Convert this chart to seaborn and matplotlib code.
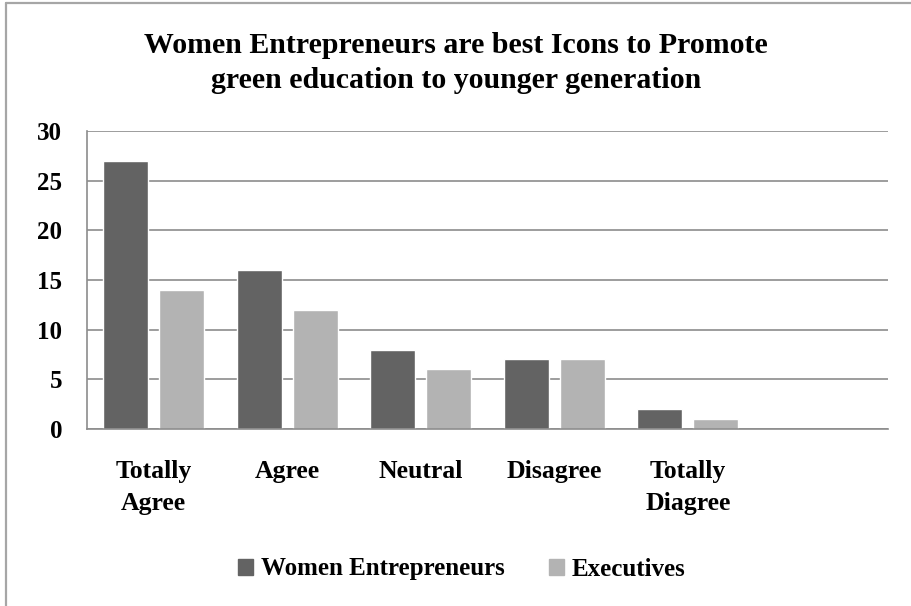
import pandas as pd
import seaborn as sns
import matplotlib.pyplot as plt
from matplotlib.lines import Line2D

# values
categories = ["Totally\nAgree", "Agree", "Neutral", "Disagree", "Totally\nDiagree"]
women_entrepreneurs = [27, 16, 8, 7, 2]
executives = [14, 12, 6, 7, 1]
series_names = ["Women Entrepreneurs", "Executives"]
series_colors = ["#636363", "#b3b3b3"]
title = "Women Entrepreneurs are best Icons to Promote\ngreen education to younger generation"

df = pd.DataFrame({
    "category": categories * 2,
    "group": [series_names[0]] * len(categories) + [series_names[1]] * len(categories),
    "value": women_entrepreneurs + executives,
})

sns.set_style("white")
plt.rcParams['font.family'] = ['Liberation Serif', 'DejaVu Serif']
plt.rcParams['font.weight'] = 'bold'
plt.rcParams['text.color'] = 'black'
plt.rcParams['xtick.color'] = 'black'
plt.rcParams['ytick.color'] = 'black'

fig = plt.figure(figsize=(9.12, 6.06), dpi=100)
ax = fig.add_axes([0.0954, 0.2921, 0.8783, 0.4917])

# extra empty slot at the right, like the original
order = categories + [" "]
sns.barplot(data=df, x="category", y="value", hue="group", order=order,
            hue_order=series_names, palette=series_colors, width=0.84, gap=0.2,
            saturation=1, legend=False, ax=ax)

ax.set_ylim(0, 30)
ax.set_yticks(range(0, 31, 5))
ax.set_xlim(-0.5, len(order) - 0.5)
ax.yaxis.grid(True, color="#8c8c8c", linewidth=1.2)
ax.set_axisbelow(True)
ax.set_xlabel("")
ax.set_ylabel("")
for s in ["top", "right"]:
    ax.spines[s].set_visible(False)
for s in ["left", "bottom"]:
    ax.spines[s].set_color("#8c8c8c")
    ax.spines[s].set_linewidth(1.2)
ax.tick_params(axis="both", length=0, labelcolor="black")
ax.tick_params(axis="y", pad=18, labelsize=18)
ax.tick_params(axis="x", pad=22, labelsize=18.5)
for lbl in ax.get_xticklabels():
    lbl.set_fontweight("bold")
    lbl.set_linespacing(1.55)
    lbl.set_verticalalignment("top")
for lbl in ax.get_yticklabels():
    lbl.set_fontweight("bold")

fig.text(0.5, 1 - 63 / 606, title, ha="center", va="center", fontsize=21.5,
         fontweight="bold", linespacing=1.4, color="black")

handles = [plt.Rectangle((0, 0), 1, 1, color=c) for c in series_colors]
fig.legend(handles, series_names, loc="center", bbox_to_anchor=(462 / 912, 1 - 569 / 606),
           ncol=2, frameon=False, prop={"size": 18, "weight": "bold"},
           handlelength=0.6, handleheight=0.6, handletextpad=0.3, columnspacing=1.8)

# chart border (left and top edges visible in the crop)
fig.add_artist(Line2D([6 / 912, 6 / 912], [0, 1 - 3 / 606], transform=fig.transFigure,
                      color="#a6a6a6", linewidth=1.6))
fig.add_artist(Line2D([6 / 912, 1], [1 - 3 / 606, 1 - 3 / 606], transform=fig.transFigure,
                      color="#a6a6a6", linewidth=1.6))

fig.savefig("out.png", dpi=100)
